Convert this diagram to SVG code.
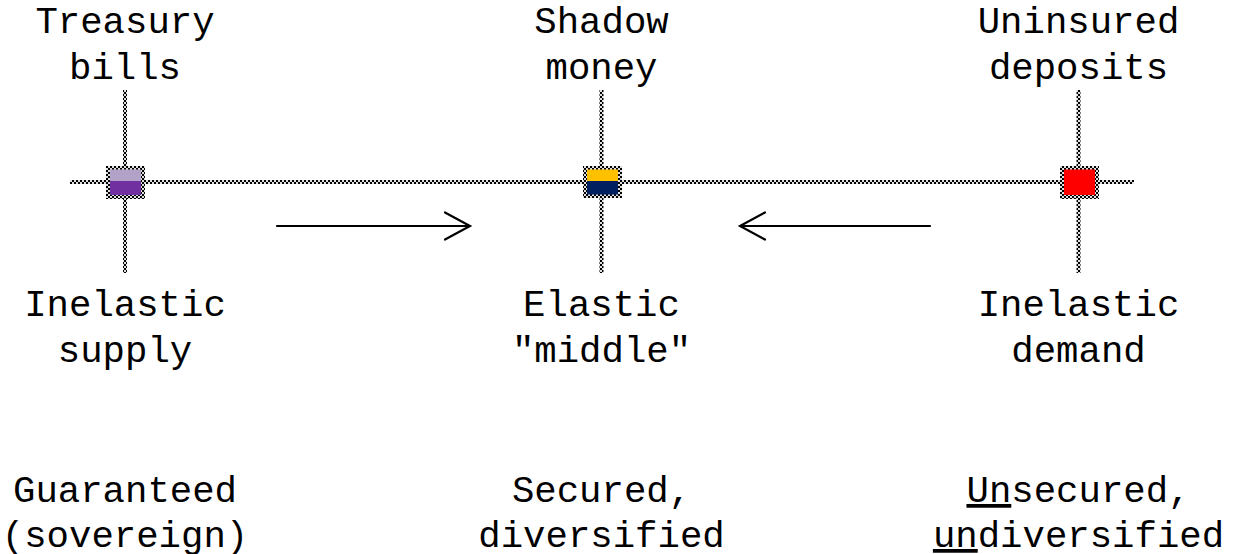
<svg xmlns="http://www.w3.org/2000/svg" width="1240" height="554" viewBox="0 0 1240 554">
<style>
text{font-family:"Liberation Mono","Courier New",monospace;font-size:37.33px;fill:#000;text-anchor:middle}
.arr{stroke:#000;stroke-width:2.2;fill:none;stroke-linecap:round;stroke-linejoin:miter}
.chk{fill:url(#checker)}
</style>
<defs>
<pattern id="checker" width="4" height="4" patternUnits="userSpaceOnUse">
<rect width="4" height="4" fill="#e0e0e0"/>
<rect x="0" y="0" width="2" height="2" fill="#000"/>
<rect x="2" y="2" width="2" height="2" fill="#000"/>
</pattern>
</defs>
<rect width="1240" height="554" fill="#fff"/>
<g id="connectors">
<rect class="chk" x="70" y="180" width="1064" height="4"/>
<rect class="chk" x="123" y="90" width="4" height="183"/>
<rect class="chk" x="599.5" y="90" width="4" height="183"/>
<rect class="chk" x="1076.5" y="90" width="4" height="183"/>
<path class="arr" d="M277 226H469M445 212.5L470 226L445 239.5"/>
<path class="arr" d="M930 226H741M765 212.5L740 226L765 239.5"/>
</g>
<g id="node-treasury">
<text x="125" y="33">Treasury</text>
<text x="125" y="79">bills</text>
<rect class="chk" x="106" y="166" width="39" height="33"/>
<rect x="110" y="169.5" width="31" height="12" fill="#b3a2c7"/>
<rect x="110" y="181" width="31" height="14" fill="#7030a0"/>
<text x="125" y="316">Inelastic</text>
<text x="125" y="362">supply</text>
<text x="125" y="502">Guaranteed</text>
<text x="125" y="547">(sovereign)</text>
</g>
<g id="node-shadow">
<text x="601.5" y="33">Shadow</text>
<text x="601.5" y="79">money</text>
<rect class="chk" x="583" y="166" width="39" height="32"/>
<rect x="587" y="169.5" width="31" height="12" fill="#ffc000"/>
<rect x="587" y="181" width="31" height="13.5" fill="#002060"/>
<text x="601.5" y="316">Elastic</text>
<text x="601.5" y="362">"middle"</text>
<text x="601.5" y="502">Secured,</text>
<text x="601.5" y="547">diversified</text>
</g>
<g id="node-uninsured">
<text x="1078.5" y="33">Uninsured</text>
<text x="1078.5" y="79">deposits</text>
<rect class="chk" x="1060" y="166" width="39" height="33"/>
<rect x="1064" y="169.5" width="31" height="25.5" fill="#ff0000"/>
<text x="1078.5" y="316">Inelastic</text>
<text x="1078.5" y="362">demand</text>
<text x="1078.5" y="502"><tspan style="text-decoration:underline">Un</tspan>secured,</text>
<text x="1078.5" y="547"><tspan style="text-decoration:underline">un</tspan>diversified</text>
</g>
</svg>
